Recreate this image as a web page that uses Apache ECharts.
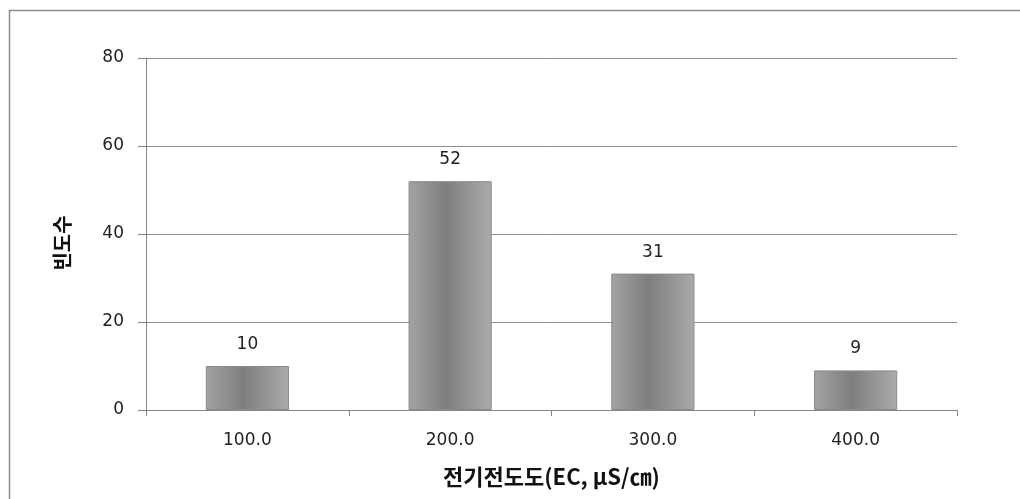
<!DOCTYPE html>
<html><head><meta charset="utf-8">
<script src="https://cdn.jsdelivr.net/npm/echarts@6/dist/echarts.min.js"></script>
<style>html,body{margin:0;padding:0;background:#fff}#c{width:1020px;height:499px}</style>
</head><body><div id="c"></div>
<script>
const categories = ['100.0', '200.0', '300.0', '400.0'];
const counts = [10, 52, 31, 9];
const yTicks = { min: 0, max: 80, interval: 20 };
const xTitle = '전기전도도(EC, μS/㎝)';
const yTitle = '빈도수';

const numFont = '"DejaVu Sans", Verdana, sans-serif';
const krFont = '"Noto Sans CJK KR", "Noto Sans", sans-serif';
const chart = echarts.init(document.getElementById('c'), null, { renderer: 'canvas' });
chart.setOption({
  backgroundColor: '#fff',
  animation: false,
  graphic: [{
    type: 'rect', left: 7, top: 8, shape: { width: 1100, height: 600 },
    style: { fill: 'none', stroke: '#8c8c8c', lineWidth: 1.5 }, silent: true, z: -1
  }],
  grid: { left: 146, right: 63, top: 58, bottom: 89 },
  xAxis: {
    type: 'category', data: categories,
    axisLine: { lineStyle: { color: '#868686', width: 1 } },
    axisTick: { show: true, alignWithLabel: false, length: 6, inside: false, lineStyle: { color: '#868686' } },
    axisLabel: { color: '#222', fontSize: 17, fontFamily: numFont, margin: 22 },
    name: xTitle, nameLocation: 'middle', nameGap: 56,
    nameTextStyle: { fontSize: 22, fontWeight: 'bold', color: '#111', fontFamily: krFont }
  },
  yAxis: {
    type: 'value', min: yTicks.min, max: yTicks.max, interval: yTicks.interval,
    axisLine: { show: true, lineStyle: { color: '#868686', width: 1 } },
    axisTick: { show: true, length: 8, lineStyle: { color: '#868686' } },
    splitLine: { lineStyle: { color: '#8c8c8c', width: 1 } },
    axisLabel: { color: '#222', fontSize: 17, fontFamily: numFont, margin: 22, verticalAlign: 'middle', padding: [8, 0, 0, 0] },
    name: yTitle, nameLocation: 'middle', nameGap: 74, nameRotate: 90,
    nameTextStyle: { fontSize: 20, fontWeight: 'bold', color: '#111', fontFamily: krFont, padding: [0, 18, 0, 0] }
  },
  series: [{
    type: 'bar', data: counts, barWidth: '41%',
    itemStyle: {
      color: new echarts.graphic.LinearGradient(0, 0, 1, 0, [
        { offset: 0, color: '#a3a3a3' },
        { offset: 0.45, color: '#7e7e7e' },
        { offset: 1, color: '#ababab' }
      ]),
      borderColor: '#8a8a8a', borderWidth: 1
    },
    label: { show: true, position: 'top', distance: 13, color: '#222', fontSize: 17, fontFamily: numFont }
  }]
});
</script></body></html>
